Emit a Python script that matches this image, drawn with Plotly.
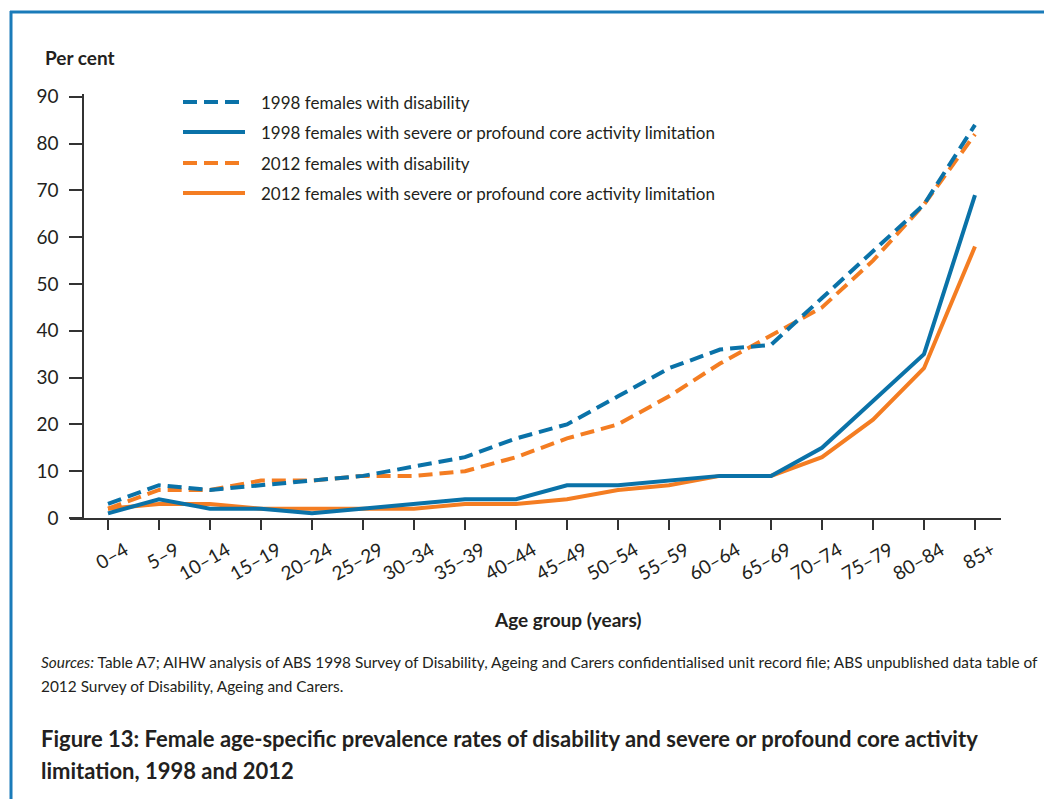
import plotly.graph_objects as go

age_groups = ["0–4", "5–9", "10–14", "15–19", "20–24", "25–29", "30–34", "35–39", "40–44",
              "45–49", "50–54", "55–59", "60–64", "65–69", "70–74", "75–79", "80–84", "85+"]
dis_1998 = [3, 7, 6, 7, 8, 9, 11, 13, 17, 20, 26, 32, 36, 37, 47, 57, 67, 84]
sev_1998 = [1, 4, 2, 2, 1, 2, 3, 4, 4, 7, 7, 8, 9, 9, 15, 25, 35, 69]
dis_2012 = [2, 6, 6, 8, 8, 9, 9, 10, 13, 17, 20, 26, 33, 39, 45, 55, 67, 82]
sev_2012 = [2, 3, 3, 2, 2, 2, 2, 3, 3, 4, 6, 7, 9, 9, 13, 21, 32, 58]
y_ticks = [0, 10, 20, 30, 40, 50, 60, 70, 80, 90]

names = ["1998 females with disability",
         "1998 females with severe or profound core activity limitation",
         "2012 females with disability",
         "2012 females with severe or profound core activity limitation"]

BLUE = "#0a72a8"
ORANGE = "#f47d22"
DASH = "14px,7px"
FONT = "Lato, Roboto, Liberation Sans, sans-serif"
TXT = "#231f20"

series = [
    (dis_1998, BLUE, DASH),
    (sev_1998, BLUE, "solid"),
    (dis_2012, ORANGE, DASH),
    (sev_2012, ORANGE, "solid"),
]
order = [2, 3, 0, 1]

fig = go.Figure()
for i in order:
    vals, col, dash = series[i]
    fig.add_trace(go.Scatter(x=age_groups, y=vals, mode="lines", name=names[i],
                             line=dict(color=col, width=4, dash=dash),
                             showlegend=False))

# page body has an 8px margin: design in window pixels, shift by OFF
OFF = 8
FW, FH = 1052 - OFF, 799 - OFF
L, R, T, B = 70 - OFF, 1001 - OFF, 94 - OFF, 518 - OFF
W, H = R - L, B - T
def px(x):
    return (x - OFF - L) / W
def py(y):
    return (B - (y - OFF)) / H

fig.update_layout(
    width=FW, height=FH,
    margin=dict(l=L, r=FW - R, t=T, b=FH - B),
    paper_bgcolor="white", plot_bgcolor="white",
    font=dict(family=FONT, color=TXT, size=18),
    xaxis=dict(type="category", range=[-0.745, 17.51], showgrid=False, zeroline=False,
               showline=True, linecolor="#333333", linewidth=2,
               ticks="outside", ticklen=10, tickwidth=1.5, tickcolor="#333333",
               tickangle=-30, tickfont=dict(size=19, family=FONT, color=TXT),
               ticklabelstandoff=2, ticklabelshift=17),
    yaxis=dict(range=[0, 90.6], tickvals=y_ticks, showgrid=False, zeroline=False,
               showline=True, linecolor="#333333", linewidth=1.5,
               anchor="free", position=px(83),
               ticks="outside", ticklen=13, tickwidth=1.5, tickcolor="#333333",
               tickfont=dict(size=19, family=FONT, color=TXT), ticklabelstandoff=7),
)

leg_y = [102, 132, 163, 193]
for i, yy in enumerate(leg_y):
    vals, col, dash = series[i]
    fig.add_shape(type="line", xref="paper", yref="paper",
                  x0=px(183), x1=px(245), y0=py(yy), y1=py(yy),
                  line=dict(color=col, width=4, dash=dash))
    fig.add_annotation(xref="paper", yref="paper", x=px(259), y=py(yy),
                       text=names[i], showarrow=False, xanchor="left", yanchor="middle",
                       font=dict(size=17, family=FONT, color=TXT))

fig.add_annotation(xref="paper", yref="paper", x=px(43), y=py(57), text="<b>Per cent</b>",
                   showarrow=False, xanchor="left", yanchor="middle",
                   font=dict(size=19, family=FONT, color=TXT))
fig.add_annotation(xref="paper", yref="paper", x=px(568), y=py(619), text="<b>Age group (years)</b>",
                   showarrow=False, xanchor="center", yanchor="middle",
                   font=dict(size=19, family=FONT, color=TXT))

fig.add_annotation(xref="paper", yref="paper", x=px(39), y=py(662),
                   text="<i>Sources:</i> Table A7; AIHW analysis of ABS 1998 Survey of Disability, Ageing and Carers confidentialised unit record file; ABS unpublished data table of",
                   showarrow=False, xanchor="left", yanchor="middle",
                   font=dict(size=15.4, family=FONT, color=TXT))
fig.add_annotation(xref="paper", yref="paper", x=px(39), y=py(686),
                   text="2012 Survey of Disability, Ageing and Carers.",
                   showarrow=False, xanchor="left", yanchor="middle",
                   font=dict(size=15.4, family=FONT, color=TXT))
fig.add_annotation(xref="paper", yref="paper", x=px(39), y=py(738),
                   text="<b>Figure 13: Female age-specific prevalence rates of disability and severe or profound core activity</b>",
                   showarrow=False, xanchor="left", yanchor="middle",
                   font=dict(size=22, family=FONT, color=TXT))
fig.add_annotation(xref="paper", yref="paper", x=px(39), y=py(770),
                   text="<b>limitation, 1998 and 2012</b>",
                   showarrow=False, xanchor="left", yanchor="middle",
                   font=dict(size=22, family=FONT, color=TXT))

BORDER = "#1a7bb9"
fig.add_shape(type="line", xref="paper", yref="paper", x0=px(10), x1=px(1070), y0=py(12), y1=py(12),
              line=dict(color=BORDER, width=3))
fig.add_shape(type="line", xref="paper", yref="paper", x0=px(11), x1=px(11), y0=py(11), y1=py(820),
              line=dict(color=BORDER, width=3))

fig.write_html("out.html")
